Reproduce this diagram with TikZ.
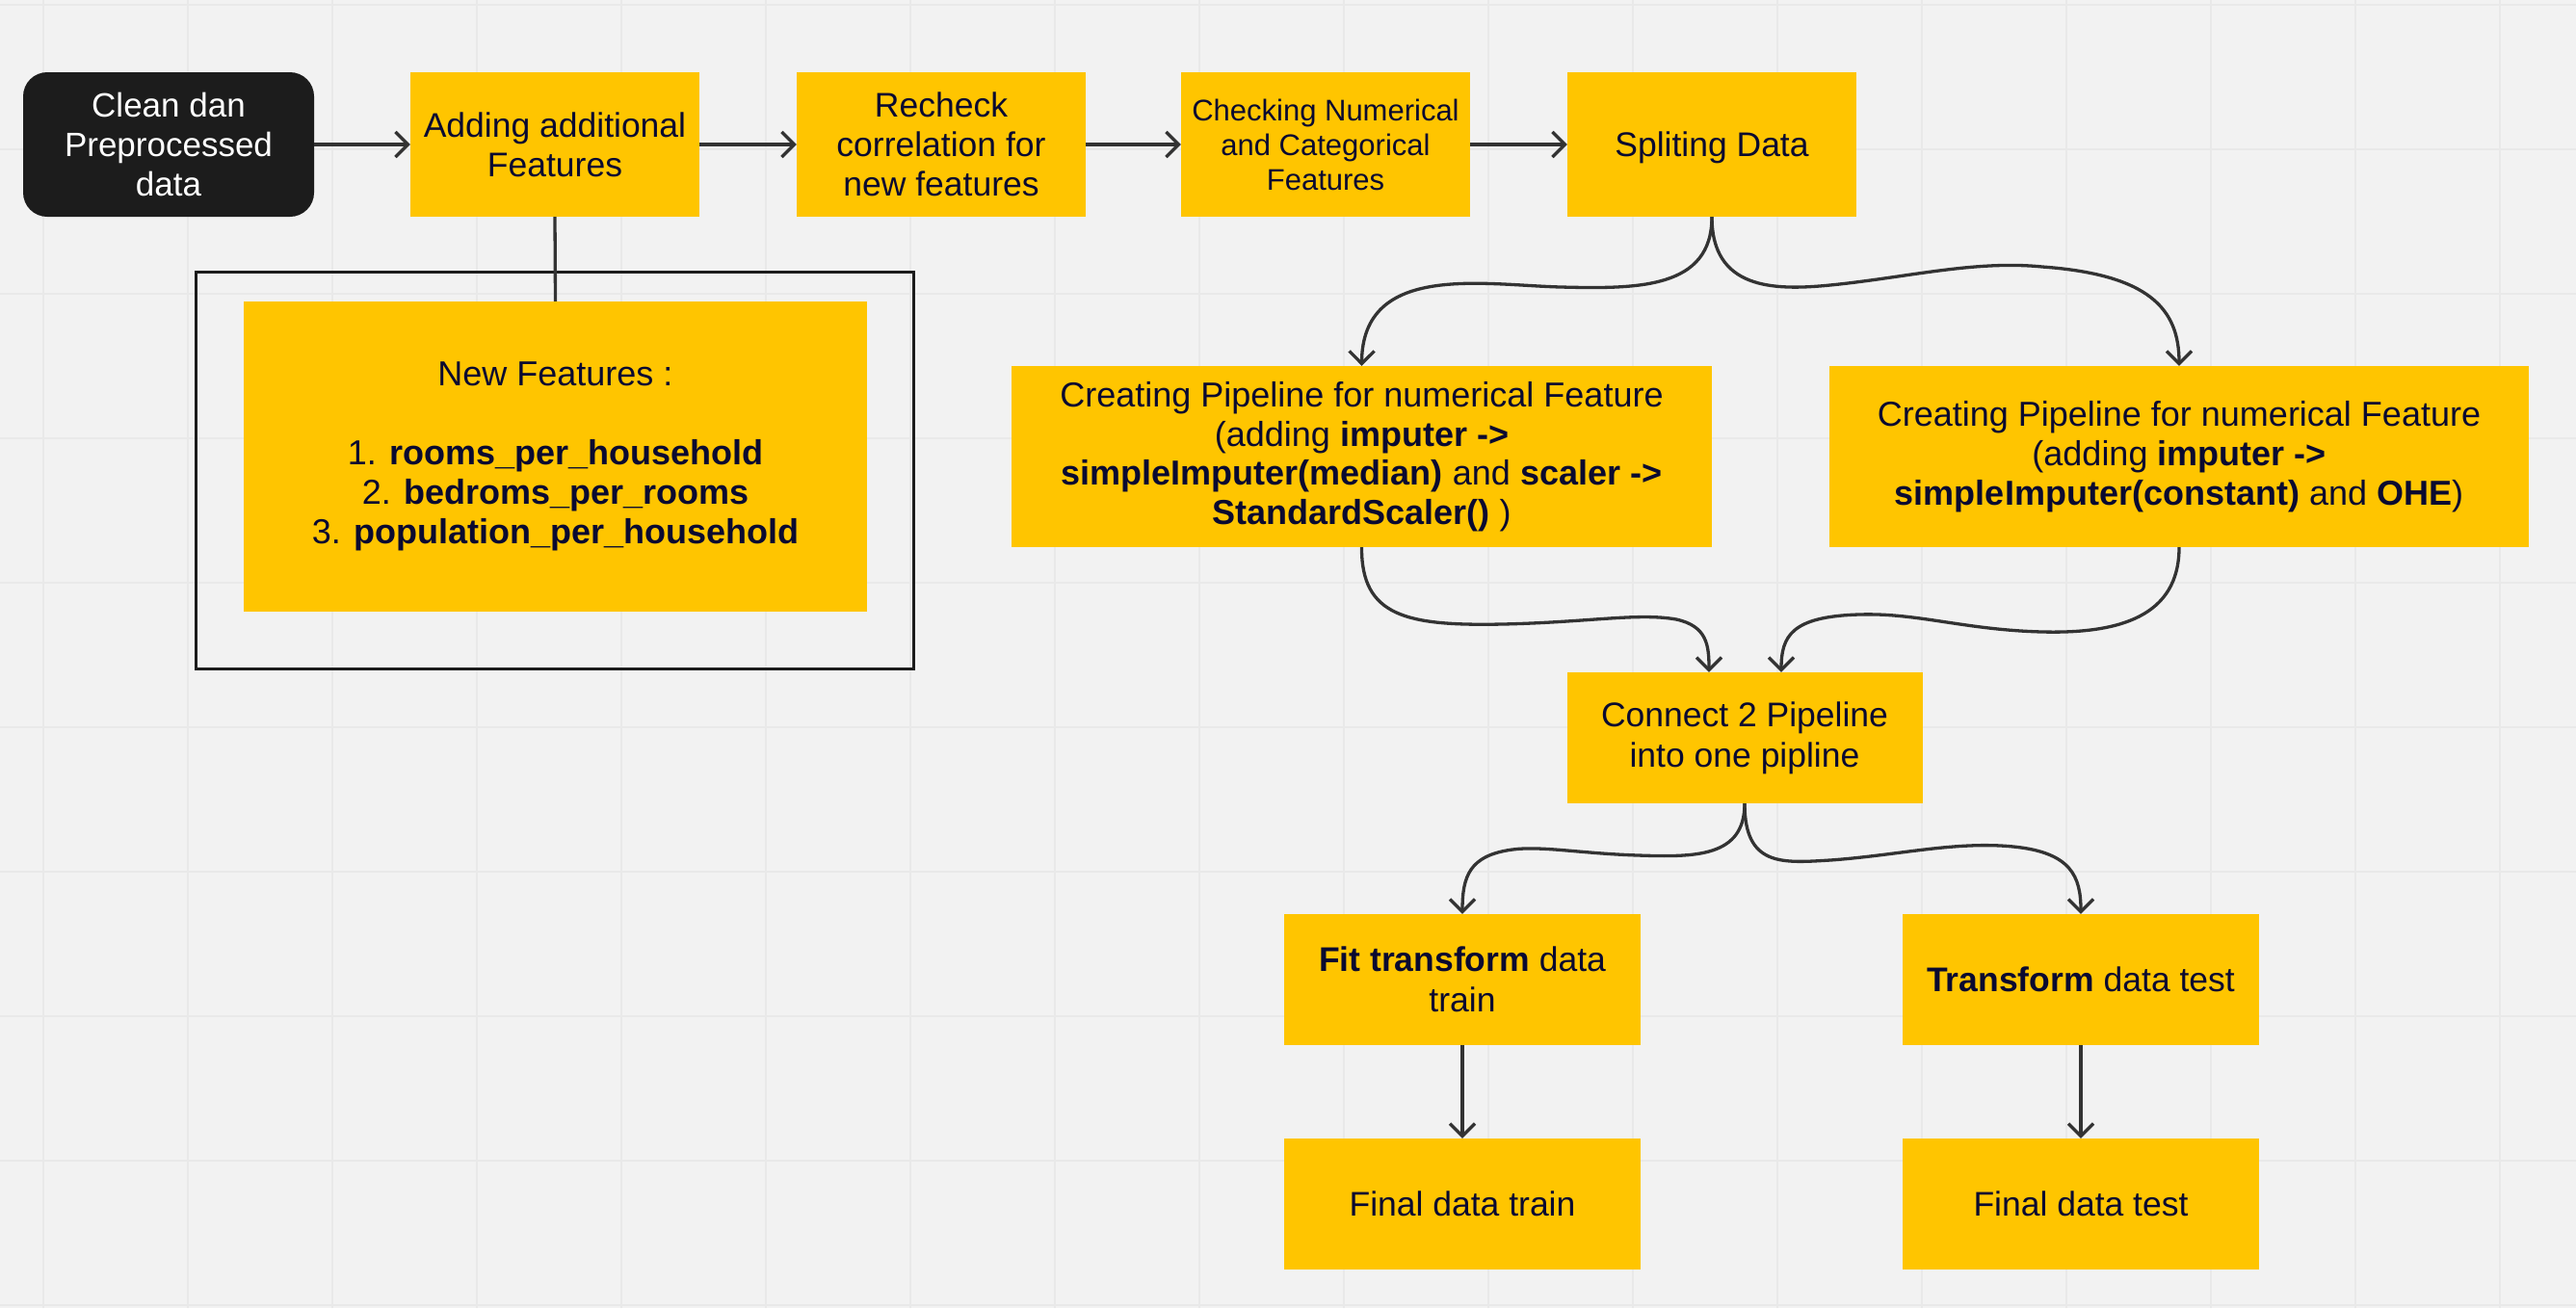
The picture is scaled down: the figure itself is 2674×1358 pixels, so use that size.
\documentclass[tikz,border=0pt]{standalone}
\usepackage{fontspec}
\setmainfont{Liberation Sans}
\usetikzlibrary{arrows.meta}
\definecolor{bgc}{HTML}{F2F2F2}
\definecolor{gridc}{HTML}{E9E9E9}
\definecolor{boxy}{HTML}{FFC500}
\definecolor{darkbox}{HTML}{1C1C1C}
\definecolor{txtc}{RGB}{10,10,48}
\definecolor{linec}{HTML}{333333}
\tikzset{
  ybox/.style={fill=boxy, inner sep=0pt, align=center, text=txtc,
    font=\fontsize{35.5}{41}\selectfont},
  conn/.style={draw=linec, line width=3.3pt, -{Straight Barb[length=13pt,width=26pt]}},
  plainline/.style={draw=linec, line width=3.3pt},
}
\begin{document}
\begin{tikzpicture}[x=1pt,y=-1pt]
\useasboundingbox (0,0) rectangle (2674,1358);
\fill[bgc] (0,0) rectangle (2674,1358);
\foreach \gx in {45,195,...,2600} \draw[gridc, line width=1.6pt] (\gx,0) -- (\gx,1358);
\foreach \gy in {5,155,...,1360} \draw[gridc, line width=1.6pt] (0,\gy) -- (2674,\gy);

% top row
\node[fill=darkbox, rounded corners=25pt, minimum width=302pt, minimum height=150pt, inner sep=0pt,
  align=center, text=white, font=\fontsize{35}{41}\selectfont] (clean) at (175,150)
  {Clean dan\\Preprocessed\\data};
\node[ybox, minimum width=300pt, minimum height=150pt] (add) at (576,150)
  {Adding additional\\Features};
\node[ybox, minimum width=300pt, minimum height=150pt] (recheck) at (977,150)
  {Recheck\\correlation for\\new features};
\node[ybox, minimum width=300pt, minimum height=150pt, font=\fontsize{31}{36}\selectfont] (check) at (1376,150)
  {Checking Numerical\\and Categorical\\Features};
\node[ybox, minimum width=300pt, minimum height=150pt] (split) at (1777,150)
  {\raisebox{0pt}[\height][0pt]{Spliting Data}};

% new features group
\draw[draw=darkbox, line width=3pt] (203,282) rectangle (948,694);
\node[ybox, minimum width=647pt, minimum height=322pt, font=\fontsize{36}{41}\selectfont] (newf) at (576.5,474)
  {New Features :\\[41pt]1. \textbf{rooms\_per\_household}\\2. \textbf{bedroms\_per\_rooms}\\3. \textbf{population\_per\_household}};

% pipelines
\node[ybox, minimum width=727pt, minimum height=188pt, font=\fontsize{36}{40.5}\selectfont] (pnum) at (1413.5,474)
  {Creating Pipeline for numerical Feature\\(adding \textbf{imputer ->}\\\textbf{simpleImputer(median)} and \textbf{scaler ->}\\\textbf{StandardScaler()} )};
\node[ybox, minimum width=726pt, minimum height=188pt, font=\fontsize{36}{41}\selectfont] (pcat) at (2262,474)
  {Creating Pipeline for numerical Feature\\(adding \textbf{imputer ->}\\\textbf{simpleImputer(constant)} and \textbf{OHE})};

\node[ybox, minimum width=369pt, minimum height=136pt, font=\fontsize{35.5}{42}\selectfont] (connect) at (1811,766)
  {Connect 2 Pipeline\\into one pipline};
\node[ybox, minimum width=370pt, minimum height=136pt, font=\fontsize{35.5}{42}\selectfont] (fit) at (1518,1017)
  {\textbf{Fit transform} data\\train};
\node[ybox, minimum width=370pt, minimum height=136pt] (trans) at (2160,1017)
  {\textbf{Transform} data test};
\node[ybox, minimum width=370pt, minimum height=136pt] (ftrain) at (1518,1250)
  {Final data train};
\node[ybox, minimum width=370pt, minimum height=136pt] (ftest) at (2160,1250)
  {Final data test};

% connectors
\draw[conn] (clean) -- (add);
\draw[conn] (add) -- (recheck);
\draw[conn] (recheck) -- (check);
\draw[conn] (check) -- (split);
\draw[plainline] (add.south) -- (newf.north);

\draw[conn] (split.south) .. controls (1777,300) and (1700,300) .. (1620,298)
  .. controls (1540,296) and (1414,272) .. (pnum.north);
\draw[conn] (split.south) .. controls (1777,300) and (1840,302) .. (1900,296)
  .. controls (1980,288) and (2050,270) .. (2120,277)
  .. controls (2230,285) and (2262,320) .. (pcat.north);

\draw[conn] (pnum.south) .. controls (1413,640) and (1460,650) .. (1560,648)
  .. controls (1650,646) and (1700,636) .. (1740,643)
  .. controls (1772,650) and (1774,670) .. ([xshift=-37pt]connect.north);
\draw[conn] (pcat.south) .. controls (2262,640) and (2200,658) .. (2120,656)
  .. controls (2040,654) and (1990,636) .. (1930,638)
  .. controls (1860,640) and (1849,660) .. ([xshift=38pt]connect.north);

\draw[conn] (connect.south) .. controls (1811,890) and (1760,890) .. (1700,888)
  .. controls (1640,886) and (1600,878) .. (1570,882)
  .. controls (1525,888) and (1518,910) .. (fit.north);
\draw[conn] (connect.south) .. controls (1811,900) and (1850,896) .. (1900,893)
  .. controls (1970,888) and (2030,873) .. (2090,879)
  .. controls (2150,885) and (2160,910) .. (trans.north);

\draw[conn] (fit) -- (ftrain);
\draw[conn] (trans) -- (ftest);
\end{tikzpicture}
\end{document}
